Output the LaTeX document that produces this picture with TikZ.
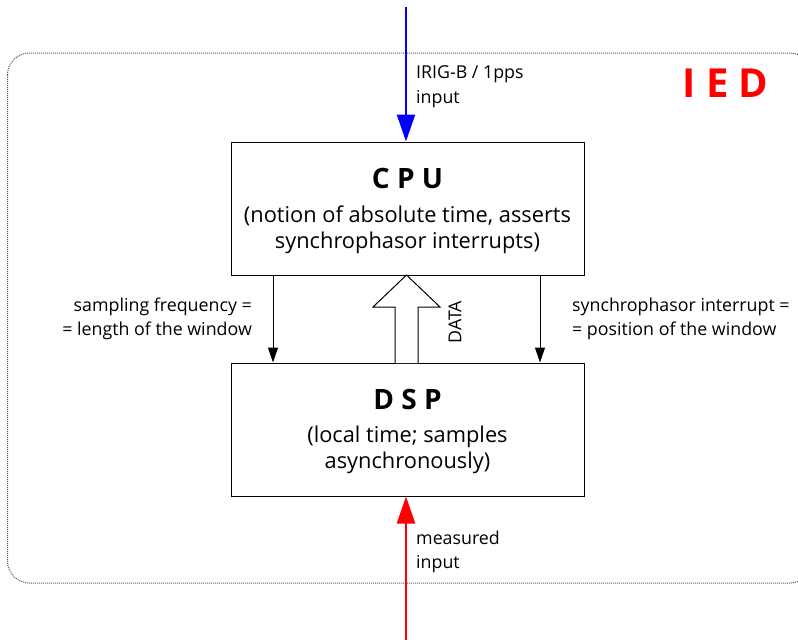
\documentclass[tikz,border=0pt]{standalone}
\usepackage{fontspec}
\setmainfont{Open Sans}
\usetikzlibrary{arrows.meta}
\definecolor{iedred}{RGB}{255,0,0}
\definecolor{frame}{RGB}{90,90,90}
\tikzset{
  unitbox/.style={draw=black,line width=1pt,minimum width=353pt,minimum height=133pt,inner sep=0pt},
  title/.style={font=\fontsize{28}{28}\selectfont\bfseries,anchor=base,inner sep=0pt},
  body/.style={font=\fontsize{21.8}{26}\selectfont,anchor=base,inner sep=0pt},
  lbl/.style={font=\fontsize{17.8}{24}\selectfont,anchor=base,inner sep=0pt},
  inarrow/.style={line width=2.4pt,-{Triangle[length=27pt,width=18pt]}},
  thin arrow/.style={line width=1pt,-{Triangle[length=15pt,width=10pt]}},
}
\begin{document}
\begin{tikzpicture}[x=1pt,y=-1pt]
\useasboundingbox (0,0) rectangle (798,640);
\clip (0,0) rectangle (798,640);
% outer IED frame
\draw[frame,densely dotted,line width=1pt,rounded corners=22pt] (7.5,53) rectangle (812,583);
\node[font=\fontsize{40}{40}\selectfont\bfseries,text=iedred,anchor=base,inner sep=0pt] (ied) at (725.5,97) {I E D};
% boxes
\node[unitbox] (cpu) at (407.5,208.5) {};
\node[unitbox] (dsp) at (407.5,429.5) {};
\node[title] (cput) at (407.5,188) {C P U};
\node[body] (cpu1) at (407.5,222) {(notion of absolute time, asserts};
\node[body] (cpu2) at (407.5,248) {synchrophasor interrupts)};
\node[title] (dspt) at (407.5,409) {D S P};
\node[body] (dsp1) at (407.5,442) {(local time; samples};
\node[body] (dsp2) at (407.5,468) {asynchronously)};
% inputs
\coordinate (irigsrc) at (406,7);
\coordinate (meassrc) at (406,640);
\draw[blue,inarrow] (irigsrc) -- (irigsrc |- cpu.north);
\draw[iedred,inarrow] (meassrc) -- (meassrc |- dsp.south);
\node[lbl,anchor=base west] (irig1) at (416,78) {IRIG-B / 1pps};
\node[lbl,anchor=base west] (irig2) at (416,103) {input};
\node[lbl,anchor=base west] (meas1) at (416,544) {measured};
\node[lbl,anchor=base west] (meas2) at (416,568) {input};
% control arrows
\coordinate (sfa) at (273,275);
\coordinate (sia) at (540,275);
\draw[thin arrow] (sfa |- cpu.south) -- (sfa |- dsp.north);
\draw[thin arrow] (sia |- cpu.south) -- (sia |- dsp.north);
\node[lbl,anchor=base east] (sf1) at (252,311) {sampling frequency =};
\node[lbl,anchor=base east] (sf2) at (252,335) {= length of the window};
\node[lbl,anchor=base west] (si1) at (572,311) {synchrophasor interrupt =};
\node[lbl,anchor=base west] (si2) at (572,335) {= position of the window};
% DATA hollow arrow
\draw[line width=1pt,fill=white] (395,363) -- (395,307) -- (373,307) -- (406.5,275) -- (440,307) -- (418,307) -- (418,363);
\node[lbl,rotate=90,anchor=center] (data) at (455,322) {DATA};
\end{tikzpicture}
\end{document}
